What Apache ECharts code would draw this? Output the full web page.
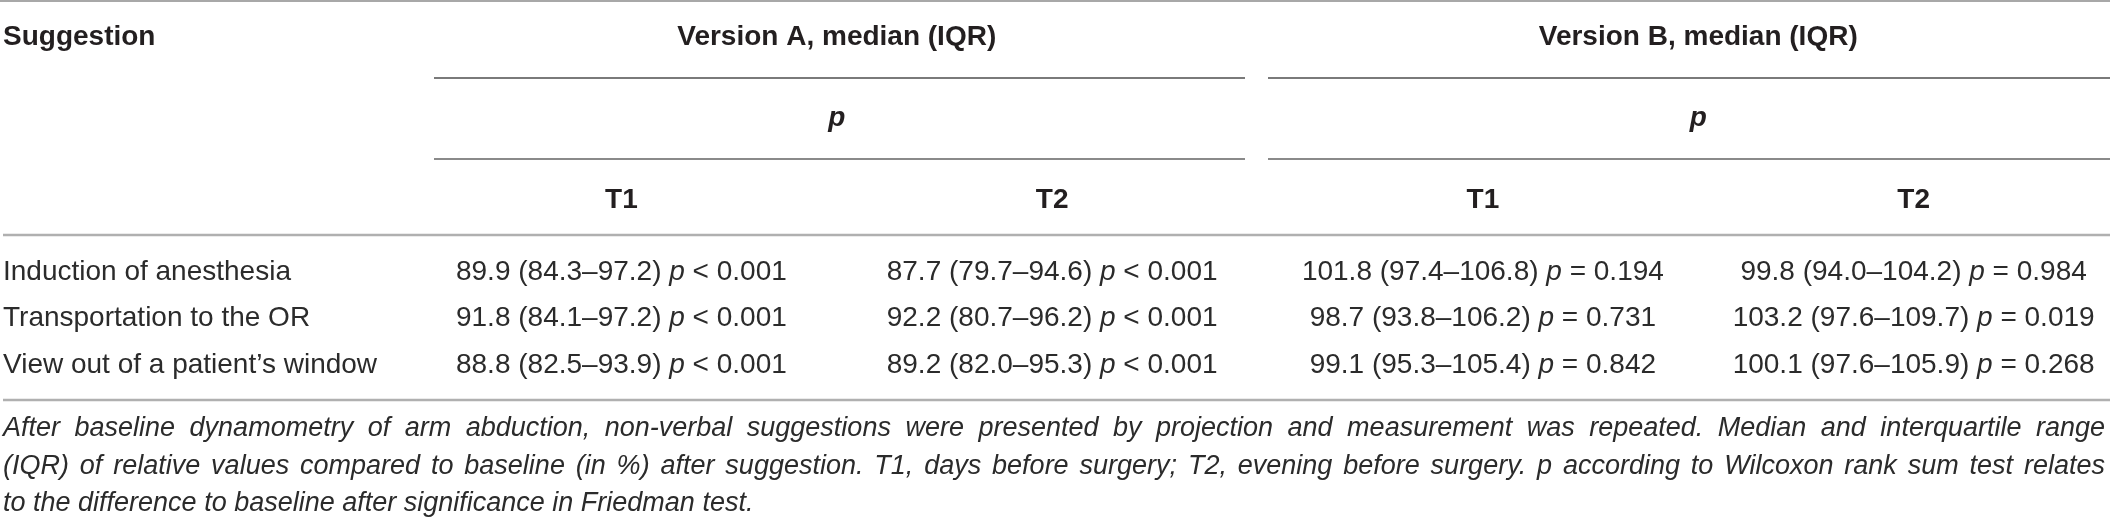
<!DOCTYPE html>
<html>
<head>
<meta charset="utf-8">
<script src="https://cdn.jsdelivr.net/npm/echarts@6/dist/echarts.min.js"></script>
<style>
  html, body { margin: 0; padding: 0; background: #fff; }
  #main { width: 2110px; height: 519px; }
</style>
</head>
<body>
<div id="main"></div>
<script>
// table content
const suggestions = ['Induction of anesthesia', 'Transportation to the OR', 'View out of a patient\u2019s window'];
const versions = ['Version A, median (IQR)', 'Version B, median (IQR)'];
const timepoints = ['T1', 'T2', 'T1', 'T2'];
// [median, q1, q3, p]
const versionAT1 = [[89.9, 84.3, 97.2, '< 0.001'], [91.8, 84.1, 97.2, '< 0.001'], [88.8, 82.5, 93.9, '< 0.001']];
const versionAT2 = [[87.7, 79.7, 94.6, '< 0.001'], [92.2, 80.7, 96.2, '< 0.001'], [89.2, 82.0, 95.3, '< 0.001']];
const versionBT1 = [[101.8, 97.4, 106.8, '= 0.194'], [98.7, 93.8, 106.2, '= 0.731'], [99.1, 95.3, 105.4, '= 0.842']];
const versionBT2 = [[99.8, 94.0, 104.2, '= 0.984'], [103.2, 97.6, 109.7, '= 0.019'], [100.1, 97.6, 105.9, '= 0.268']];
const footnote = [
  'After baseline dynamometry of arm abduction, non-verbal suggestions were presented by projection and measurement was repeated. Median and interquartile range',
  '(IQR) of relative values compared to baseline (in %) after suggestion. T1, days before surgery; T2, evening before surgery. p according to Wilcoxon rank sum test relates',
  'to the difference to baseline after significance in Friedman test.'
];

const FONT = '"Liberation Sans", Arial, Helvetica, sans-serif';
const INK = '#231f20';
const BODY = '#2b2b2b';

const columns = [versionAT1, versionAT2, versionBT1, versionBT2];
const cells = [];
columns.forEach((col, c) => {
  col.forEach((v, r) => {
    cells.push({ value: [c, r], med: v[0], lo: v[1], hi: v[2], p: v[3] });
  });
});

const chartDom = document.getElementById('main');
const myChart = echarts.init(chartDom, null, { renderer: 'canvas' });

const option = {
  backgroundColor: '#fff',
  animation: false,
  grid: { left: 406, right: -19, top: 249, bottom: 131, outerBoundsMode: 'none' },
  xAxis: {
    type: 'category',
    position: 'top',
    data: timepoints,
    axisLine: { show: false },
    axisTick: { show: false },
    splitLine: { show: false },
    axisLabel: {
      margin: 49, verticalAlign: 'middle', interval: 0,
      fontFamily: FONT, fontSize: 28, fontWeight: 'bold', color: INK
    }
  },
  yAxis: {
    type: 'category',
    inverse: true,
    data: suggestions,
    axisLine: { show: false },
    axisTick: { show: false },
    splitLine: { show: false },
    axisLabel: {
      margin: 403, align: 'left', interval: 0,
      fontFamily: FONT, fontSize: 28, color: BODY
    }
  },
  series: [{
    type: 'custom',
    data: cells,
    renderItem: function (params, api) {
      const cell = cells[params.dataIndex];
      const pt = api.coord([api.value(0), api.value(1)]);
      const txt = '{n|' + cell.med.toFixed(1) + ' (' + cell.lo.toFixed(1) + '\u2013' + cell.hi.toFixed(1) + ')} {i|p} {n|' + cell.p + '}';
      return {
        type: 'text',
        x: pt[0],
        y: pt[1],
        style: {
          text: txt,
          align: 'center',
          verticalAlign: 'middle',
          fontFamily: FONT,
          fontSize: 28,
          fill: BODY,
          rich: {
            n: { fontFamily: FONT, fontSize: 28, color: BODY },
            i: { fontFamily: FONT, fontSize: 28, fontStyle: 'italic', color: BODY }
          }
        }
      };
    }
  }]
};
option && myChart.setOption(option);

// header, rules and footnote placed around the grid
const colX = timepoints.map((t, i) => myChart.convertToPixel({ xAxisIndex: 0 }, i));
const groupA = (colX[0] + colX[1]) / 2;
const groupB = (colX[2] + colX[3]) / 2;

function rule(x1, x2, y, color, w) {
  return { type: 'line', shape: { x1: x1, y1: y, x2: x2, y2: y }, style: { stroke: color, lineWidth: w }, silent: true };
}
function label(text, x, y, align, extra) {
  return {
    type: 'text', x: x, y: y, silent: true,
    style: Object.assign({ text: text, align: align, verticalAlign: 'middle', fontFamily: FONT, fontSize: 28, fill: INK }, extra || {})
  };
}

const graphics = [
  rule(0, 2110, 1, '#a8a8a8', 2),
  rule(434, 1245, 78, '#7a7a7a', 2),
  rule(1268, 2110, 78, '#7a7a7a', 2),
  rule(434, 1245, 159, '#8a8a8a', 2),
  rule(1268, 2110, 159, '#8a8a8a', 2),
  rule(3, 2110, 235, '#b0b0b0', 2.5),
  rule(3, 2110, 400, '#b0b0b0', 2.5),
  label('Suggestion', 3, 37, 'left', { fontWeight: 'bold' }),
  label(versions[0], groupA, 37, 'center', { fontWeight: 'bold' }),
  label(versions[1], groupB, 37, 'center', { fontWeight: 'bold' }),
  label('p', groupA, 118, 'center', { fontWeight: 'bold', fontStyle: 'italic' }),
  label('p', groupB, 118, 'center', { fontWeight: 'bold', fontStyle: 'italic' })
];

// footnote: first lines justified word by word
const ctx = document.createElement('canvas').getContext('2d');
const noteLeft = 3, noteRight = 2105;
const noteY = [428, 466, 503];
function noteSizeFor(line) {
  // largest size (max 27px) that still leaves a normal gap between words
  const words = line.split(' ');
  for (let s = 27; s > 20; s -= 0.5) {
    ctx.font = 'italic ' + s + 'px ' + FONT;
    const total = words.reduce((a, w) => a + ctx.measureText(w).width, 0);
    if ((noteRight - noteLeft - total) / (words.length - 1) >= s * 0.3) return s;
  }
  return 20;
}
const NOTE_SIZE = Math.min(noteSizeFor(footnote[0]), noteSizeFor(footnote[1]));
ctx.font = 'italic ' + NOTE_SIZE + 'px ' + FONT;
footnote.forEach((line, li) => {
  const y = noteY[li];
  const noteStyle = { fontSize: NOTE_SIZE, fontStyle: 'italic', fill: BODY };
  if (li === footnote.length - 1) {
    graphics.push(label(line, noteLeft, y, 'left', noteStyle));
    return;
  }
  const words = line.split(' ');
  const widths = words.map(w => ctx.measureText(w).width);
  const total = widths.reduce((a, b) => a + b, 0);
  const gap = (noteRight - noteLeft - total) / (words.length - 1);
  let x = noteLeft;
  words.forEach((w, k) => {
    graphics.push(label(w, x, y, 'left', noteStyle));
    x += widths[k] + gap;
  });
});

myChart.setOption({ graphic: graphics });
</script>
</body>
</html>
